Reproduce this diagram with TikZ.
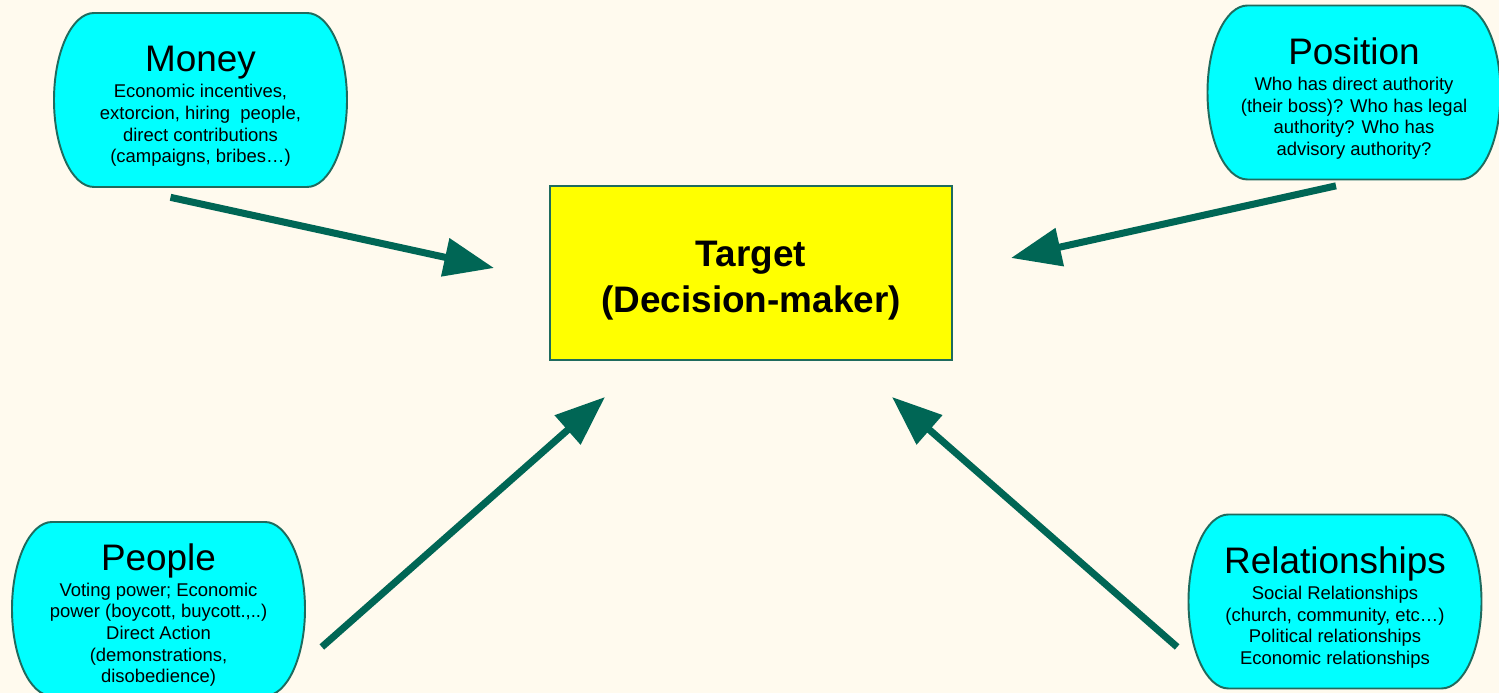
\documentclass[tikz,border=0pt]{standalone}
\usepackage{fontspec}
\setmainfont{Liberation Sans}
\usetikzlibrary{arrows.meta,backgrounds}
\definecolor{paper}{HTML}{FFFAEE}
\definecolor{boxcyan}{HTML}{00FFFF}
\definecolor{boxyellow}{HTML}{FFFF00}
\definecolor{edge}{HTML}{1F6B5E}
\definecolor{pushgreen}{HTML}{006655}
\newcommand{\factorname}[1]{{\fontsize{21}{25}\selectfont\rule{0pt}{22pt}#1}\\[2.5pt]}

\begin{document}
\begin{tikzpicture}[
  source/.style={minimum width=5.86cm,minimum height=3.48cm,align=center,inner sep=0pt,
    font=\fontsize{10.5}{12.3}\selectfont},
  capsule/.pic={\draw[draw=edge,line width=1.1pt,fill=boxcyan] (-2.13,1.74) -- (2.13,1.74)
    arc[start angle=90,end angle=-90,x radius=0.8,y radius=1.74] -- (-2.13,-1.74)
    arc[start angle=270,end angle=90,x radius=0.8,y radius=1.74] -- cycle;},
  target/.style={draw=edge,line width=1.1pt,fill=boxyellow,minimum width=8.04cm,minimum height=3.48cm,
    align=center,font=\fontsize{21}{26}\selectfont\bfseries},
  pull/.style={draw=pushgreen,line width=4pt,-{Triangle[length=1cm,width=0.75cm]}}]
\useasboundingbox (0,0) rectangle (29.98,13.86);

\node[target] (target) at (15.02,8.40) {\rule{0pt}{23pt}Target\\(Decision-maker)};

\node[source] (money) at (4.01,11.86) {\factorname{Money}Economic incentives,\\extorcion, hiring~ people,\\direct contributions\\(campaigns, bribes…)};
\node[source] (position) at (27.08,12.01) {\factorname{Position}Who has direct authority\\(their boss)? Who has legal\\authority? Who has\\advisory authority?};
\node[source] (people) at (3.17,1.68) {\factorname{People}Voting power; Economic\\power (boycott, buycott.,..)\\Direct Action\\(demonstrations,\\disobedience)};
\node[source] (relations) at (26.70,1.83) {\factorname{Relationships}Social Relationships\\(church, community, etc…)\\Political relationships\\Economic relationships};

\begin{scope}[on background layer]
  \fill[paper] (0,0) rectangle (29.98,13.86);
  \foreach \n in {money,position,people,relations}
    \pic at (\n) {capsule};
\end{scope}

\draw[pull] ([xshift=-0.6cm,yshift=-0.2cm]money.south) -- ([xshift=-1.1cm,yshift=0.1cm]target.west);
\draw[pull] ([xshift=-0.36cm,yshift=-0.12cm]position.south) -- ([xshift=1.16cm,yshift=0.3cm]target.east);
\draw[pull] ([xshift=0.33cm,yshift=-0.76cm]people.east) -- ([xshift=1.12cm,yshift=-0.72cm]target.south west);
\draw[pull] ([xshift=-0.22cm,yshift=-0.91cm]relations.west) -- ([xshift=-1.22cm,yshift=-0.72cm]target.south east);
\end{tikzpicture}
\end{document}
